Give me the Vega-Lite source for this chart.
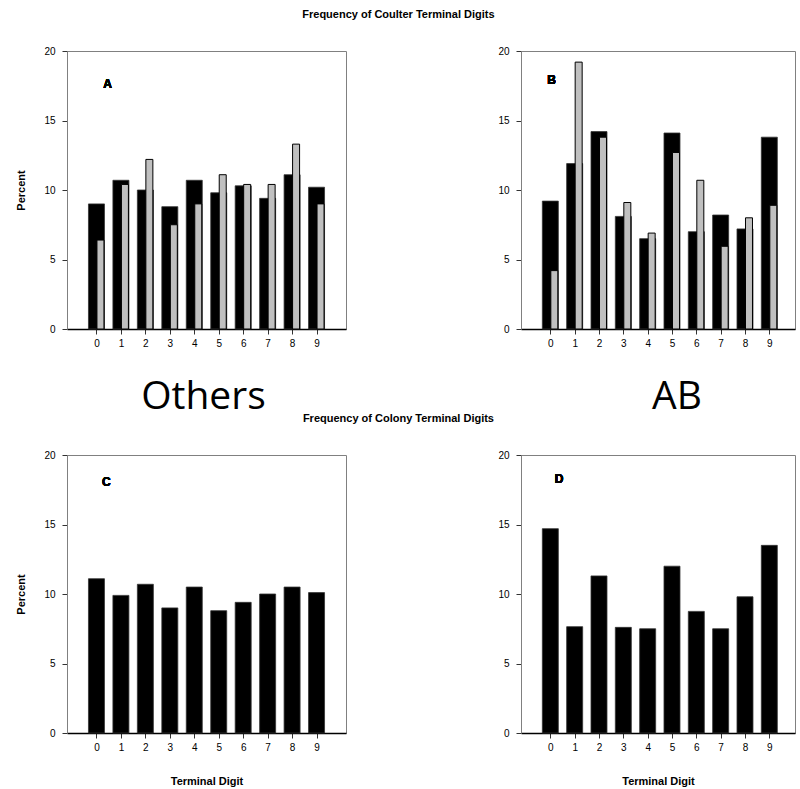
{
  "$schema": "https://vega.github.io/schema/vega-lite/v6.json",
  "padding": {"left": 15, "top": 8, "right": 0, "bottom": 0},
  "background": "white",
  "datasets": {
    "A": [
      {"digit": 0, "dark": 9.0, "light": 6.4},
      {"digit": 1, "dark": 10.7, "light": 10.4},
      {"digit": 2, "dark": 10.0, "light": 12.2},
      {"digit": 3, "dark": 8.8, "light": 7.5},
      {"digit": 4, "dark": 10.7, "light": 9.0},
      {"digit": 5, "dark": 9.8, "light": 11.1},
      {"digit": 6, "dark": 10.3, "light": 10.4},
      {"digit": 7, "dark": 9.4, "light": 10.4},
      {"digit": 8, "dark": 11.1, "light": 13.3},
      {"digit": 9, "dark": 10.2, "light": 9.0}
    ],
    "B": [
      {"digit": 0, "dark": 9.2, "light": 4.2},
      {"digit": 1, "dark": 11.9, "light": 19.2},
      {"digit": 2, "dark": 14.2, "light": 13.8},
      {"digit": 3, "dark": 8.1, "light": 9.1},
      {"digit": 4, "dark": 6.5, "light": 6.9},
      {"digit": 5, "dark": 14.1, "light": 12.7},
      {"digit": 6, "dark": 7.0, "light": 10.7},
      {"digit": 7, "dark": 8.2, "light": 5.95},
      {"digit": 8, "dark": 7.2, "light": 8.0},
      {"digit": 9, "dark": 13.8, "light": 8.9}
    ],
    "C": [
      {"digit": 0, "dark": 11.1},
      {"digit": 1, "dark": 9.9},
      {"digit": 2, "dark": 10.7},
      {"digit": 3, "dark": 9.0},
      {"digit": 4, "dark": 10.5},
      {"digit": 5, "dark": 8.8},
      {"digit": 6, "dark": 9.4},
      {"digit": 7, "dark": 10.0},
      {"digit": 8, "dark": 10.5},
      {"digit": 9, "dark": 10.1}
    ],
    "D": [
      {"digit": 0, "dark": 14.7},
      {"digit": 1, "dark": 7.65},
      {"digit": 2, "dark": 11.3},
      {"digit": 3, "dark": 7.6},
      {"digit": 4, "dark": 7.5},
      {"digit": 5, "dark": 12.0},
      {"digit": 6, "dark": 8.75},
      {"digit": 7, "dark": 7.5},
      {"digit": 8, "dark": 9.8},
      {"digit": 9, "dark": 13.5}
    ]
  },
  "title": {
    "text": "Frequency of Coulter Terminal Digits",
    "fontSize": 11, "fontWeight": "bold", "font": "Liberation Sans", "color": "black",
    "anchor": "middle", "offset": 26, "dx": -7
  },
  "vconcat": [
    {
      "hconcat": [
        {
          "width": 279, "height": 278,
          "data": {"name": "A"},
          "layer": [
            {
              "mark": {"type": "bar", "color": "black", "stroke": "#333333", "strokeWidth": 0.8, "width": 16},
              "encoding": {
                "x": {"field": "digit", "type": "quantitative", "scale": {"domain": [-1, 10], "nice": false, "zero": false},
                      "axis": {"values": [0,1,2,3,4,5,6,7,8,9], "title": null}},
                "y": {"field": "dark", "type": "quantitative", "scale": {"domain": [0, 20], "nice": false},
                      "axis": {"values": [0,5,10,15,20], "title": "Percent"}}
              }
            },
            {
              "mark": {"type": "bar", "color": "#c0c0c0", "stroke": "black", "strokeWidth": 1, "width": 7, "xOffset": 4},
              "encoding": {
                "x": {"field": "digit", "type": "quantitative", "axis": {"values": [0,1,2,3,4,5,6,7,8,9], "title": null}},
                "y": {"field": "light", "type": "quantitative", "axis": {"values": [0,5,10,15,20], "title": "Percent"}}
              }
            },
            {
              "mark": {"type": "text", "text": "A", "fontWeight": "bold", "fontSize": 12, "font": "Liberation Sans", "fill": "black"},
              "encoding": {
                "x": {"datum": 0.45, "type": "quantitative", "axis": {"values": [0,1,2,3,4,5,6,7,8,9], "title": null}},
                "y": {"datum": 17.6, "type": "quantitative", "axis": {"values": [0,5,10,15,20], "title": "Percent"}}
              }
            }
          ]
        },
        {
          "width": 274, "height": 278,
          "data": {"name": "B"},
          "layer": [
            {
              "mark": {"type": "bar", "color": "black", "stroke": "#333333", "strokeWidth": 0.8, "width": 16},
              "encoding": {
                "x": {"field": "digit", "type": "quantitative", "scale": {"domain": [-1, 9.85], "nice": false, "zero": false},
                      "axis": {"values": [0,1,2,3,4,5,6,7,8,9], "title": null}},
                "y": {"field": "dark", "type": "quantitative", "scale": {"domain": [0, 20], "nice": false},
                      "axis": {"values": [0,5,10,15,20], "title": null}}
              }
            },
            {
              "mark": {"type": "bar", "color": "#c0c0c0", "stroke": "black", "strokeWidth": 1, "width": 7, "xOffset": 4},
              "encoding": {
                "x": {"field": "digit", "type": "quantitative", "axis": {"values": [0,1,2,3,4,5,6,7,8,9], "title": null}},
                "y": {"field": "light", "type": "quantitative", "axis": {"values": [0,5,10,15,20], "title": null}}
              }
            },
            {
              "mark": {"type": "text", "text": "B", "fontWeight": "bold", "fontSize": 12, "font": "Liberation Sans", "fill": "black"},
              "encoding": {
                "x": {"datum": 0.05, "type": "quantitative", "axis": {"values": [0,1,2,3,4,5,6,7,8,9], "title": null}},
                "y": {"datum": 17.9, "type": "quantitative", "axis": {"values": [0,5,10,15,20], "title": null}}
              }
            }
          ]
        }
      ],
      "spacing": 150
    },
    {
      "title": {
        "text": "Frequency of Colony Terminal Digits",
        "fontSize": 11, "fontWeight": "bold", "font": "Liberation Sans", "color": "black",
        "anchor": "middle", "offset": -46, "dx": -7
      },
      "hconcat": [
        {
          "width": 279, "height": 278,
          "data": {"name": "C"},
          "title": {"text": "Others", "font": "Open Sans", "fontSize": 39, "fontWeight": "normal", "color": "black", "anchor": "middle", "offset": 33, "dx": -3},
          "layer": [
            {
              "mark": {"type": "bar", "color": "black", "stroke": "#333333", "strokeWidth": 0.8, "width": 16},
              "encoding": {
                "x": {"field": "digit", "type": "quantitative", "scale": {"domain": [-1, 10], "nice": false, "zero": false},
                      "axis": {"values": [0,1,2,3,4,5,6,7,8,9], "title": "Terminal Digit"}},
                "y": {"field": "dark", "type": "quantitative", "scale": {"domain": [0, 20], "nice": false},
                      "axis": {"values": [0,5,10,15,20], "title": "Percent"}}
              }
            },
            {
              "mark": {"type": "text", "text": "C", "fontWeight": "bold", "fontSize": 12, "font": "Liberation Sans", "fill": "black"},
              "encoding": {
                "x": {"datum": 0.4, "type": "quantitative", "axis": {"values": [0,1,2,3,4,5,6,7,8,9], "title": "Terminal Digit"}},
                "y": {"datum": 18.05, "type": "quantitative", "axis": {"values": [0,5,10,15,20], "title": "Percent"}}
              }
            }
          ]
        },
        {
          "width": 274, "height": 278,
          "data": {"name": "D"},
          "title": {"text": "AB", "font": "Open Sans", "fontSize": 39, "fontWeight": "normal", "color": "black", "anchor": "middle", "offset": 33, "dx": 19},
          "layer": [
            {
              "mark": {"type": "bar", "color": "black", "stroke": "#333333", "strokeWidth": 0.8, "width": 16},
              "encoding": {
                "x": {"field": "digit", "type": "quantitative", "scale": {"domain": [-1, 9.85], "nice": false, "zero": false},
                      "axis": {"values": [0,1,2,3,4,5,6,7,8,9], "title": "Terminal Digit"}},
                "y": {"field": "dark", "type": "quantitative", "scale": {"domain": [0, 20], "nice": false},
                      "axis": {"values": [0,5,10,15,20], "title": null}}
              }
            },
            {
              "mark": {"type": "text", "text": "D", "fontWeight": "bold", "fontSize": 12, "font": "Liberation Sans", "fill": "black"},
              "encoding": {
                "x": {"datum": 0.36, "type": "quantitative", "axis": {"values": [0,1,2,3,4,5,6,7,8,9], "title": "Terminal Digit"}},
                "y": {"datum": 18.3, "type": "quantitative", "axis": {"values": [0,5,10,15,20], "title": null}}
              }
            }
          ]
        }
      ],
      "spacing": 150
    }
  ],
  "spacing": 28,
  "config": {
    "view": {"stroke": "#808080", "strokeWidth": 1},
    "font": "Liberation Sans",
    "axis": {
      "grid": false,
      "labelFont": "Liberation Sans", "labelFontSize": 10, "labelColor": "black", "labelOverlap": false,
      "titleFont": "Liberation Sans", "titleFontSize": 11, "titleFontWeight": "bold", "titleColor": "black",
      "tickColor": "#333333", "tickSize": 5, "labelPadding": 7
    },
    "axisX": {"domainColor": "black", "domainWidth": 1.5, "titlePadding": 23, "labelAngle": 0, "labelPadding": 4},
    "axisY": {"domainColor": "#808080", "titlePadding": 17}
  }
}
